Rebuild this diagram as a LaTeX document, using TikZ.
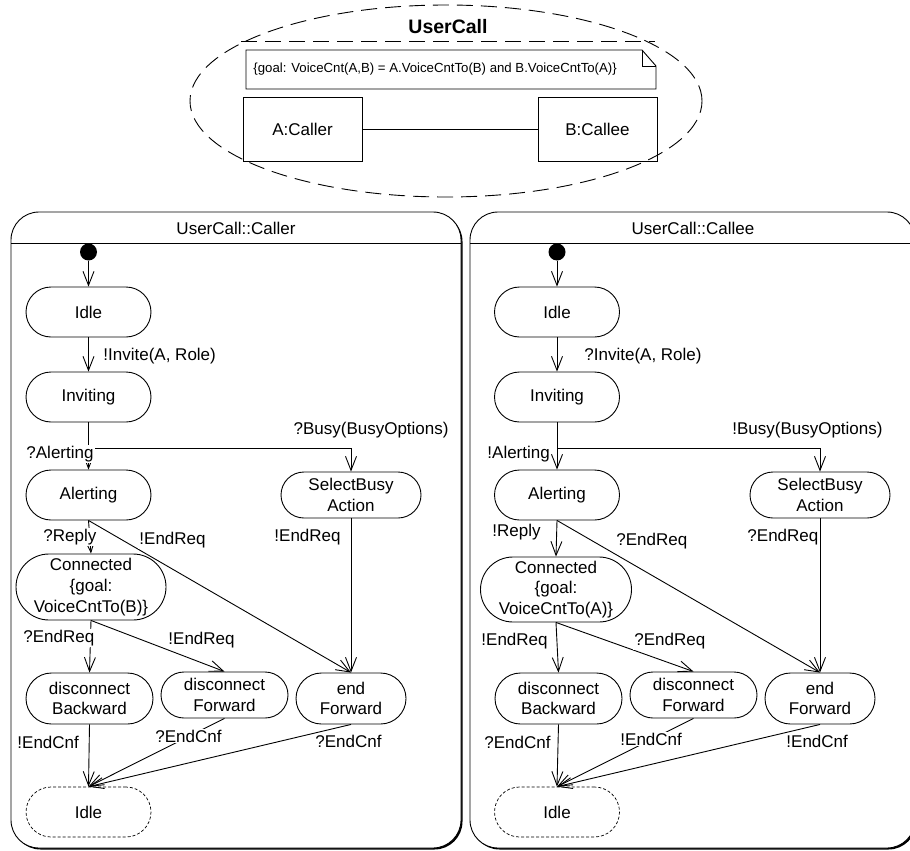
\documentclass[tikz,border=0pt]{standalone}
\usepackage{fontspec}
\setmainfont{Liberation Sans}
\usetikzlibrary{arrows.meta}
\begin{document}
\begin{tikzpicture}[x=1pt,y=-1pt,
  line width=0.9pt,
  every node/.style={font=\fontsize{17}{20.7}\selectfont},
  arr/.style={-{Straight Barb[length=14pt,width=11pt]}},
  stbox/.style={draw, rectangle, align=center, inner sep=0pt},
  sstd/.style={stbox, minimum width=125pt, minimum height=50pt, rounded corners=25pt},
  twoline/.style={stbox, minimum width=127pt, minimum height=#1, rounded corners=0.5*#1},
  finalst/.style={sstd, dash pattern=on 3pt off 2pt, line width=0.7pt},
  lbl/.style={fill=white, inner sep=1pt},
  lblw/.style={lbl, anchor=west},
  lble/.style={lbl, anchor=east},
  startdot/.style={circle, fill=black, inner sep=0pt, minimum size=17pt},
  panelshadow/.style={fill=black, rounded corners=28pt},
  panel/.style={draw, fill=white, rounded corners=28pt},
  objbox/.style={draw, rectangle, minimum width=119pt, minimum height=64pt, inner sep=0pt},
  bigdash/.style={dash pattern=on 16pt off 8pt}
]
\useasboundingbox (0,0) rectangle (910,851);

% ---------- collaboration: UserCall ----------
\draw[bigdash] (446,101) ellipse [x radius=256pt, y radius=96pt];
\draw[bigdash] (241,41) -- (655,41);
\node[font=\bfseries\fontsize{19.5}{23}\selectfont] (title) at (448,27) {UserCall};

% goal note with folded corner
\draw (246,50) -- (642,50) -- (656,66) -- (656,89) -- (246,89) -- cycle;
\draw (642,50) -- (642,66) -- (656,66);
\node[anchor=west, inner sep=0pt, font=\fontsize{13.2}{15}\selectfont] (goal) at (253,69)
  {\{goal: VoiceCnt(A,B) = A.VoiceCntTo(B) and B.VoiceCntTo(A)\}};

\node[objbox] (caller) at (302.5,129) {A:Caller};
\node[objbox] (callee) at (597.5,129) {B:Callee};
\draw (caller) -- (callee);

% ---------- state machine panels ----------
\fill[panelshadow] (12.5,213.5) rectangle (462.5,849.5);
\draw[panel] (11,212) rectangle (461,848);
\draw (11,243) -- (461,243);
\node (ttlL) at (236,228) {UserCall::Caller};

\fill[panelshadow] (471.5,213.5) rectangle (916.5,849.5);
\draw[panel] (470,212) rectangle (915,848);
\draw (470,243) -- (915,243);
\node (ttlR) at (693,228) {UserCall::Callee};

% ---------- UserCall::Caller ----------
\node[startdot] (dotL) at (88.5,252) {};
\node[sstd] (idleL) at (88.5,312) {Idle};
\node[sstd] (invL) at (88.5,397) {Inviting};
\coordinate (jL) at (88.5,448);
\node[sstd] (alertL) at (88.5,495) {Alerting};
\node[stbox, minimum width=140pt, minimum height=46pt, rounded corners=23pt] (busyL) at (351,495) {SelectBusy\\Action};
\node[stbox, minimum width=150pt, minimum height=66pt, rounded corners=33pt] (connL) at (91,587) {Connected\\\{goal:\\VoiceCntTo(B)\}};
\node[twoline=51pt] (dbL) at (89.5,698.5) {disconnect\\Backward};
\node[twoline=46pt] (dfL) at (224.5,695) {disconnect\\Forward};
\node[stbox, minimum width=110pt, minimum height=51pt, rounded corners=25.5pt] (efL) at (351,698.5) {end\\Forward};
\node[finalst] (endL) at (88.5,812) {Idle};

\draw[arr] (dotL) -- (idleL);
\draw[arr] (idleL) -- (invL);
\draw (invL) -- (jL);
\draw[arr] (jL) -- (alertL);
\draw[arr] (jL) -| (busyL);
\draw[arr] (alertL.south) -- (connL.north);
\draw[arr] (alertL.south) -- (efL.north);
\draw[arr] (busyL) -- (efL);
\draw[arr] (connL.south) -- (dbL.north);
\draw[arr] (connL.south) -- (dfL.north);
\draw[arr] (dbL.south) -- (endL.north);
\draw[arr] (dfL.south) -- (endL.north);
\draw[arr] (efL.south) -- (endL.north);

\node[lblw] (lInvL) at (102,356) {!Invite(A, Role)};
\node[lble] (lBusyL) at (450,430) {?Busy(BusyOptions)};
\node[lblw] (lAlertL) at (25,454) {?Alerting};
\node[lblw] (lReplyL) at (42,537) {?Reply};
\node[lblw] (lReqAL) at (138,540) {!EndReq};
\node[lblw] (lReqBL) at (273,537) {!EndReq};
\node[lblw] (lReqCL) at (22,638) {?EndReq};
\node[lblw] (lReqDL) at (167,640) {!EndReq};
\node[lblw] (lCnfAL) at (16,742) {!EndCnf};
\node[lblw] (lCnfBL) at (154,736) {?EndCnf};
\node[lblw] (lCnfCL) at (314,741) {?EndCnf};

% ---------- UserCall::Callee ----------
\node[startdot] (dotR) at (557,252) {};
\node[sstd] (idleR) at (557,312) {Idle};
\node[sstd] (invR) at (557,397) {Inviting};
\coordinate (jR) at (557,448);
\node[sstd] (alertR) at (557,495) {Alerting};
\node[stbox, minimum width=140pt, minimum height=46pt, rounded corners=23pt] (busyR) at (820,495) {SelectBusy\\Action};
\node[stbox, minimum width=151pt, minimum height=65pt, rounded corners=32.5pt] (connR) at (556,589.5) {Connected\\\{goal:\\VoiceCntTo(A)\}};
\node[twoline=51pt] (dbR) at (558.5,698.5) {disconnect\\Backward};
\node[twoline=46pt] (dfR) at (693.5,695) {disconnect\\Forward};
\node[stbox, minimum width=110pt, minimum height=51pt, rounded corners=25.5pt] (efR) at (820,698.5) {end\\Forward};
\node[finalst] (endR) at (557,812) {Idle};

\draw[arr] (dotR) -- (idleR);
\draw[arr] (idleR) -- (invR);
\draw (invR) -- (jR);
\draw[arr] (jR) -- (alertR);
\draw[arr] (jR) -| (busyR);
\draw[arr] (alertR.south) -- (connR.north);
\draw[arr] (alertR.south) -- (efR.north);
\draw[arr] (busyR) -- (efR);
\draw[arr] (connR.south) -- (dbR.north);
\draw[arr] (connR.south) -- (dfR.north);
\draw[arr] (dbR.south) -- (endR.north);
\draw[arr] (dfR.south) -- (endR.north);
\draw[arr] (efR.south) -- (endR.north);

\node[lblw] (lInvR) at (583,356) {?Invite(A, Role)};
\node[lble] (lBusyR) at (884,430) {!Busy(BusyOptions)};
\node[lblw] (lAlertR) at (486,454) {!Alerting};
\node[lblw] (lReplyR) at (491,532) {!Reply};
\node[lblw] (lReqAR) at (615,541) {?EndReq};
\node[lblw] (lReqBR) at (746,537) {?EndReq};
\node[lblw] (lReqCR) at (480,641) {!EndReq};
\node[lblw] (lReqDR) at (633,641) {?EndReq};
\node[lblw] (lCnfAR) at (483,742) {?EndCnf};
\node[lblw] (lCnfBR) at (619,739) {!EndCnf};
\node[lblw] (lCnfCR) at (785,741) {!EndCnf};
\end{tikzpicture}
\end{document}
